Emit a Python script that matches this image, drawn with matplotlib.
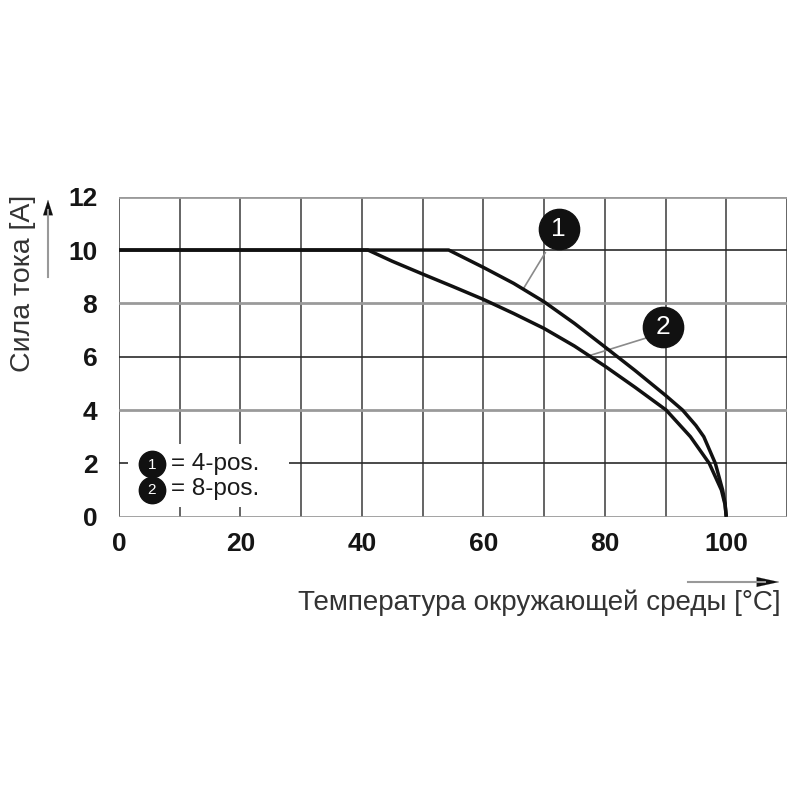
import matplotlib
matplotlib.use('Agg')
import matplotlib.pyplot as plt
from matplotlib.patches import Rectangle

# temperature [°C] / current [A]
temp_4pos = [0, 54.3, 60, 65, 70, 75, 80, 85, 90, 92.8, 95, 96.3, 98.2, 99.4, 99.8, 100]
curr_4pos = [10, 10, 9.35, 8.75, 8.06, 7.25, 6.37, 5.48, 4.55, 4.0, 3.42, 3.0, 2.0, 1.0, 0.5, 0]

temp_8pos = [0, 41, 45, 50, 55, 60, 65, 70, 75, 80, 85, 90.1, 94.1, 97.2, 99.2, 99.8, 100]
curr_8pos = [10, 10, 9.58, 9.1, 8.63, 8.15, 7.62, 7.06, 6.4, 5.65, 4.85, 4.0, 3.0, 2.0, 1.0, 0.45, 0]

x_ticks = [0, 20, 40, 60, 80, 100]
x_grid = [0, 10, 20, 30, 40, 50, 60, 70, 80, 90, 100, 110]
y_ticks = [0, 2, 4, 6, 8, 10, 12]

legend_labels = ['= 4-pos.', '= 8-pos.']
x_label = 'Температура окружающей среды [°C]'
y_label = 'Сила тока [A]'

plt.rcParams['font.family'] = ['Liberation Sans', 'DejaVu Sans']

fig = plt.figure(figsize=(8, 8), dpi=100)
ax = fig.add_axes([118.9 / 800, 283.3 / 800, (787 - 118.9) / 800, (516.7 - 196.7) / 800])
ax.set_xlim(0, 110)
ax.set_ylim(0, 12)

# grid
for xv in x_grid:
	ax.axvline(xv, color='#3a3a3a', lw=1.1, zorder=1)
for i, yv in enumerate(y_ticks):
	if i % 2 == 0:
		ax.axhline(yv, color='#9a9a9a', lw=2.0, zorder=1)
	else:
		ax.axhline(yv, color='#2a2a2a', lw=1.2, zorder=1)

for s in ax.spines.values():
	s.set_visible(False)

ax.set_xticks(x_ticks)
ax.set_yticks(y_ticks)
ax.tick_params(length=0, labelsize=19, colors='#151515')
ax.tick_params(axis='x', pad=11)
ax.tick_params(axis='y', pad=15.5)
for lab in ax.get_xticklabels() + ax.get_yticklabels():
	lab.set_fontweight('bold')

# curves
ax.plot(temp_8pos, curr_8pos, color='#111111', lw=2.5, zorder=4, solid_capstyle='butt', solid_joinstyle='round')
ax.plot(temp_4pos, curr_4pos, color='#111111', lw=2.5, zorder=4, solid_capstyle='butt', solid_joinstyle='round')

# callouts
callouts = [('1', (72.4, 10.8), (70.2, 9.9), (66.6, 8.55)),
			('2', (89.6, 7.1), (86.8, 6.7), (77.6, 6.05))]
for num, c, p0, p1 in callouts:
	ax.plot([p0[0], p1[0]], [p0[1], p1[1]], color='#8a8a8a', lw=1.2, zorder=3)
	ax.plot(c[0], c[1], 'o', ms=29, color='#111111', zorder=5)
	ax.text(c[0], c[1], num, color='white', fontsize=19, ha='center', va='center', zorder=6)

# legend box
ax.add_patch(Rectangle((1.5, 0.36), 26.5, 2.38, facecolor='white', edgecolor='none', zorder=2))
for k, (lab, yv) in enumerate(zip(legend_labels, [1.97, 1.02])):
	ax.plot(5.4, yv, 'o', ms=19, color='#111111', zorder=5)
	ax.text(5.4, yv - 0.02, str(k + 1), color='white', fontsize=11, ha='center', va='center', zorder=6)
	ax.text(8.5, yv, lab, fontsize=17.5, color='#1a1a1a', ha='left', va='center', zorder=6)

# axis labels with arrows
fig.text(781 / 800, 1 - 603 / 800, x_label, fontsize=20, color='#333333', ha='right', va='center')
fig.text(23 / 800, 1 - 283 / 800, y_label, fontsize=20.5, color='#333333', rotation=90, ha='center', va='center')

fig.add_artist(plt.Line2D([688 / 800, 765 / 800], [218 / 800, 218 / 800], color='#999999', lw=1.5))
ax.annotate('', xy=(782, 218), xytext=(758, 218), xycoords='figure pixels', textcoords='figure pixels',
			arrowprops=dict(arrowstyle='-|>,head_length=1.6,head_width=0.35', color='#111111', lw=0.1))
fig.add_artist(plt.Line2D([48 / 800, 48 / 800], [(800 - 277) / 800, (800 - 210) / 800], color='#999999', lw=1.5))
ax.annotate('', xy=(48, 800 - 197), xytext=(48, 800 - 214), xycoords='figure pixels', textcoords='figure pixels',
			arrowprops=dict(arrowstyle='-|>,head_length=1.1,head_width=0.35', color='#111111', lw=0.1))

fig.savefig('out.png', dpi=100, facecolor='white')
